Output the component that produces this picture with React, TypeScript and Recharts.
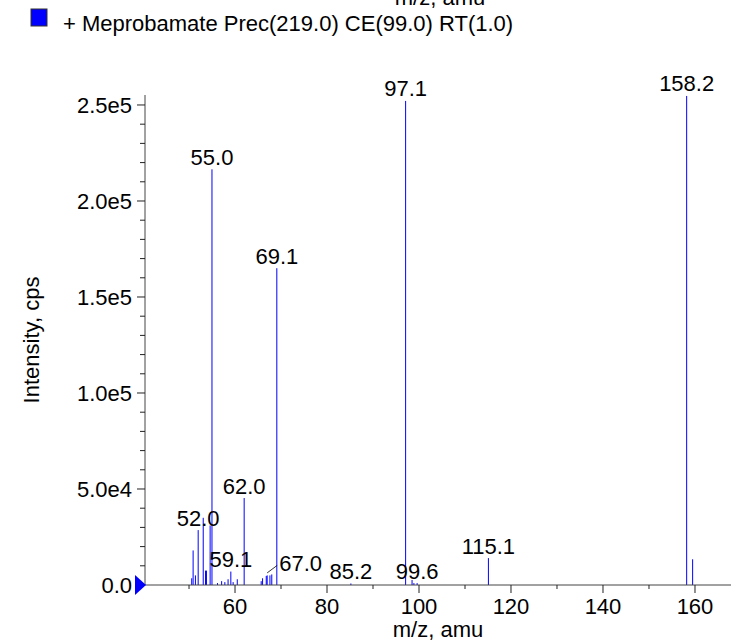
import React from 'react';
import { ComposedChart, Bar, XAxis, YAxis, LabelList, Customized } from 'recharts';

// m/z of every stick and its intensity (cps)
const mzValues = [
  50.6, 50.9, 51.4, 52.0, 53.1, 53.6, 53.8, 54.6, 55.0, 56.2, 57.1, 57.8, 58.5,
  59.1, 59.6, 60.5, 62.0, 65.7, 66.0, 66.8, 67.0, 67.6, 68.0, 69.1, 85.2, 97.1,
  98.5, 98.9, 99.6, 115.1, 158.2, 159.5,
];
const intensities = [
  3500, 18000, 5000, 28600, 35000, 7500, 7500, 31000, 216500, 1000, 2000, 1500, 3000,
  7000, 1500, 3000, 45300, 2000, 3500, 4700, 5000, 5000, 5500, 165000, 800, 252100,
  2600, 1000, 1000, 14000, 254700, 13400,
];
const labeledPeaks = ['52.0', '55.0', '59.1', '62.0', '67.0', '69.1', '85.2', '97.1', '99.6', '115.1', '158.2'];

const xTicks = [50, 60, 70, 80, 90, 100, 110, 120, 130, 140, 150, 160];
const yTicks = [
  0, 10000, 20000, 30000, 40000, 50000, 60000, 70000, 80000, 90000, 100000, 110000, 120000,
  130000, 140000, 150000, 160000, 170000, 180000, 190000, 200000, 210000, 220000, 230000,
  240000, 250000,
];

const seriesName = '+ Meprobamate Prec(219.0) CE(99.0) RT(1.0)';
const xTitle = 'm/z, amu';
const yTitle = 'Intensity, cps';

const data = mzValues.map((mz, i) => ({
  mz,
  intensity: intensities[i],
  label: labeledPeaks.includes(mz.toFixed(1)) ? mz.toFixed(1) : '',
}));

const BLUE = '#0000ff';
const FONT = 22;

const formatIntensity = (v: number) => {
  if (v === 0) return '0.0';
  const exp = Math.floor(Math.log10(v));
  return `${(v / Math.pow(10, exp)).toFixed(1)}e${exp}`;
};

function Stick(props: any) {
  const { x, y, width, height } = props;
  if (height == null || isNaN(height)) return null;
  const cx = x + width / 2;
  return <line x1={cx} x2={cx} y1={y} y2={y + height} stroke={BLUE} strokeWidth={1} />;
}

function PeakLabel(props: any) {
  const { x, y, width, value } = props;
  if (!value) return null;
  const cx = x + width / 2;
  if (value === '67.0') {
    // this label sits off to the right, with a short leader line
    return (
      <g>
        <line x1={cx} y1={y - 2.5} x2={cx + 10} y2={y - 10} stroke="#000" strokeWidth={0.8} />
        <text x={cx + 12} y={y - 4.5} fontSize={FONT} fill="#000">{value}</text>
      </g>
    );
  }
  return (
    <text x={cx} y={y - 4.5} fontSize={FONT} fill="#000" textAnchor="middle">
      {value}
    </text>
  );
}

function YTick(props: any) {
  const { x, y, payload } = props;
  const v = payload.value;
  const major = v % 50000 === 0;
  const edge = x + 13;
  return (
    <g>
      <line x1={edge - (major ? 8 : 5)} x2={edge} y1={y} y2={y} stroke="#222" />
      {major && (
        <text x={x} y={y + 8} fontSize={FONT} fill="#000" textAnchor="end">
          {formatIntensity(v)}
        </text>
      )}
      {v === 0 && (
        <polygon points={`${edge - 10},${y - 10} ${edge - 10},${y + 10} ${edge + 1},${y}`} fill={BLUE} />
      )}
    </g>
  );
}

function XTick(props: any) {
  const { x, y, payload } = props;
  const v = payload.value;
  const major = v % 20 === 0;
  const axisY = y - 12;
  return (
    <g>
      <line x1={x} x2={x} y1={axisY} y2={axisY + (major ? 8 : 4)} stroke="#222" />
      {major && (
        <text x={x} y={axisY + 29} fontSize={FONT} fill="#000" textAnchor="middle">
          {v}
        </text>
      )}
    </g>
  );
}

function Decorations() {
  return (
    <g fill="#000" fontSize={FONT}>
      {/* axis title of the panel above, cut off by the top edge as in the original */}
      <text x={440} y={5} textAnchor="middle">{xTitle}</text>
      <rect x={31} y={9} width={16} height={17} fill={BLUE} stroke="#333" strokeWidth={1} />
      <text x={63} y={31}>{seriesName}</text>
      <text transform="translate(31,340) rotate(-90)" textAnchor="middle" dy="0.35em">{yTitle}</text>
      <text x={438} y={637} textAnchor="middle">{xTitle}</text>
    </g>
  );
}

export default function App() {
  return (
    <div
      style={{
        position: 'absolute',
        left: 0,
        top: 0,
        width: 731,
        height: 643,
        background: '#fff',
        fontFamily: '"Liberation Sans", Arial, Helvetica, sans-serif',
      }}
    >
      <ComposedChart width={731} height={643} data={data} margin={{ top: 95, right: 0, bottom: 0, left: 0 }}>
        <XAxis
          dataKey="mz"
          type="number"
          domain={[40.43, 167.83]}
          allowDataOverflow
          ticks={xTicks}
          interval={0}
          tick={<XTick />}
          tickLine={false}
          tickSize={8}
          tickMargin={4}
          height={58}
          stroke="#444"
        />
        <YAxis
          type="number"
          domain={[0, 255200]}
          allowDataOverflow
          ticks={yTicks}
          interval={0}
          tick={<YTick />}
          tickLine={false}
          tickSize={8}
          tickMargin={5}
          width={145}
          stroke="#444"
        />
        <Bar dataKey="intensity" barSize={1} shape={<Stick />} isAnimationActive={false}>
          <LabelList dataKey="label" content={<PeakLabel />} />
        </Bar>
        <Customized component={<Decorations />} />
      </ComposedChart>
    </div>
  );
}
